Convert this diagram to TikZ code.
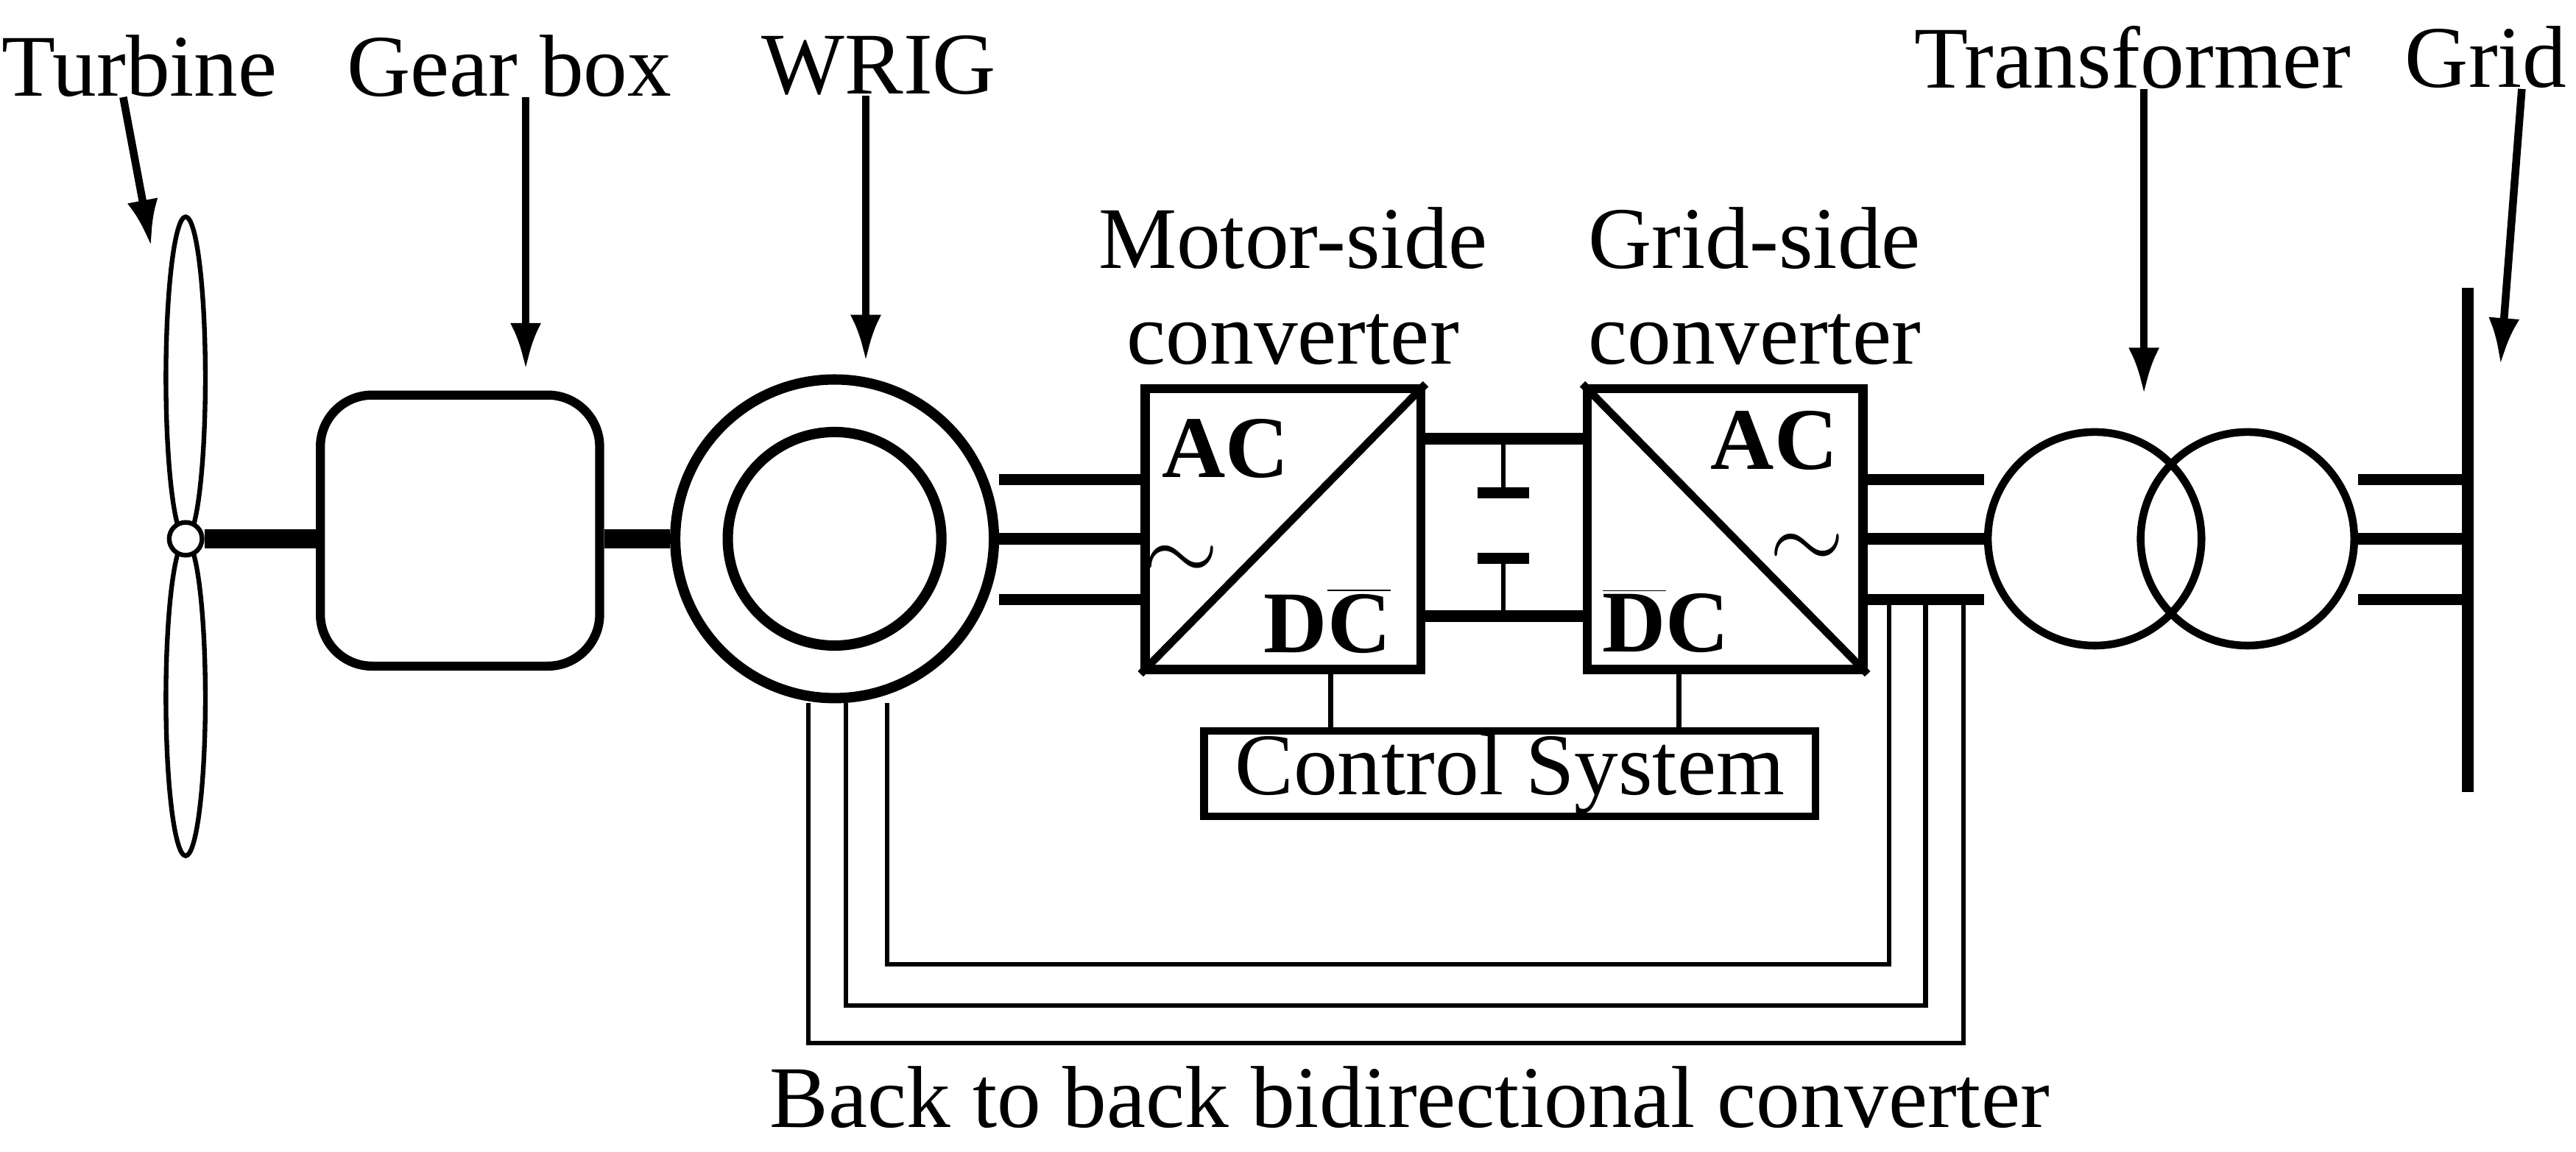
\documentclass[tikz,border=0pt]{standalone}
\usepackage{fontspec}
\setmainfont{Liberation Serif}
\usetikzlibrary{shapes.geometric, arrows.meta}
\tikzstyle{every node}=[font=\fontsize{34}{36}\selectfont]
\tikzstyle{label} = [inner sep=0pt]
\tikzstyle{pointer} = [draw, line width=3pt, -{Latex[length=18pt,width=12pt]}]
\tikzstyle{bus} = [draw, line width=4.4pt]
\tikzstyle{wire} = [draw, line width=1.8pt]
\tikzstyle{conv} = [draw, line width=3.5pt, rectangle, minimum width=168*0.02232cm, minimum height=171*0.02232cm, inner sep=0pt]

\begin{document}
\begin{tikzpicture}[x=0.02232cm, y=-0.02232cm]
    \useasboundingbox (0,0) rectangle (1568,701);
    % Labels and pointers
    \node [label] (lturb) at (85,40) {Turbine};
    \node [label] (lgear) at (310,40) {Gear box};
    \node [label] (lwrig) at (535,40) {WRIG};
    \node [label] (lmsc) at (787,145) {Motor-side};
    \node [label] (lmsc2) at (787,207) {converter};
    \node [label] (lgsc) at (1068,145) {Grid-side};
    \node [label] (lgsc2) at (1068,207) {converter};
    \node [label] (ltrans) at (1298,35) {Transformer};
    \node [label] (lgrid) at (1513,35) {Grid};
    \node [label] (lb2b) at (858,668) {Back to back bidirectional converter};
    % Turbine
    \node [draw, line width=1.8pt, ellipse, minimum width=24*0.02232cm, minimum height=196*0.02232cm, inner sep=0pt] (blade1) at (113,230) {};
    \node [draw, line width=1.8pt, ellipse, minimum width=24*0.02232cm, minimum height=192*0.02232cm, inner sep=0pt] (blade2) at (113,425) {};
    \node [draw, line width=1.8pt, circle, fill=white, minimum size=20*0.02232cm, inner sep=0pt] (hub) at (113,328) {};
    % Gear box and generator
    \node [draw, line width=3.5pt, rectangle, rounded corners=20, minimum width=170*0.02232cm, minimum height=165*0.02232cm] (gear) at (280,323) {};
    \node [draw, line width=4pt, circle, minimum size=194*0.02232cm, inner sep=0pt] (wrig) at (508,328) {};
    \node [draw, line width=4pt, circle, minimum size=130*0.02232cm, inner sep=0pt] (rotor) at (508,328) {};
    \draw [line width=12*0.02232cm] (hub.east) -- (gear.west |- hub);
    \draw [line width=12*0.02232cm] (gear.east |- hub) -- (wrig.west);
    % Converters
    \node [conv] (msc) at (781,322) {};
    \node [conv] (gsc) at (1050,322) {};
    \draw [line width=3pt] (msc.south west) -- (msc.north east);
    \draw [line width=3pt] (gsc.north west) -- (gsc.south east);
    \node [font=\bfseries\fontsize{34}{36}\selectfont] (ac1) at (746,273) {AC};
    \node [scale=1.5] (tl1) at (719,343) {$\sim$};
    \node (dc1) at (808,378) {\textbf{D}$\overline{\textbf{C}}$};
    \node [font=\bfseries\fontsize{34}{36}\selectfont] (ac2) at (1080,268) {AC};
    \node [scale=1.5] (tl2) at (1100,336) {$\sim$};
    \node (dc2) at (1014,378) {$\overline{\textbf{D}}$\textbf{C}};
    % DC link
    \coordinate (cap1) at (915,300);
    \coordinate (cap2) at (915,340);
    \draw [bus] (msc.east |- 0,267) -- (gsc.west |- 0,267);
    \draw [bus] (msc.east |- 0,375) -- (gsc.west |- 0,375);
    \draw [wire] (cap1 |- 0,267) -- (cap1);
    \draw [wire] (cap2) -- (cap2 |- 0,375);
    \draw [bus] ([xshift=-10]cap1) -- ([xshift=10]cap1);
    \draw [bus] ([xshift=-10]cap2) -- ([xshift=10]cap2);
    % Transformer and grid
    \node [draw, line width=3pt, circle, minimum size=130*0.02232cm, inner sep=0pt] (tr1) at (1275,328) {};
    \node [draw, line width=3pt, circle, minimum size=130*0.02232cm, inner sep=0pt] (tr2) at (1368,328) {};
    \coordinate (gtop) at (1502,175);
    \coordinate (gbot) at (1502,482);
    \draw [line width=4.4pt] (gtop) -- (gbot);
    % Three phase lines
    \foreach \yy in {292,328,365} {
        \draw [bus] (wrig.east |- 0,\yy) -- (msc.west |- 0,\yy);
        \draw [bus] (gsc.east |- 0,\yy) -- (tr1.west |- 0,\yy);
        \draw [bus] (tr2.east |- 0,\yy) -- (gtop |- 0,\yy);
    }
    % Control system
    \node [draw, line width=3pt, minimum width=372*0.02232cm, minimum height=52*0.02232cm, inner sep=0pt] (ctrl) at (919,471) {Control System};
    \draw [wire] (msc.south -| 810,0) -- (ctrl.north -| 810,0);
    \draw [wire] (gsc.south -| 1022,0) -- (ctrl.north -| 1022,0);
    % Rotor feedback
    \foreach \xa/\xb/\yy in {492/1195/635, 515/1172/612, 540/1150/587} {
        \coordinate (fa) at (\xa,\yy);
        \coordinate (fb) at (\xb,\yy);
        \draw [wire] (wrig.south -| fa) -- (fa) -- (fb) -- (fb |- 0,365);
    }
    % Pointers
    \path [pointer] (lturb.south -| 75,0) -- (92,150);
    \path [pointer] (lgear.south -| 320,0) -- (320,225);
    \path [pointer] (lwrig.south -| 527,0) -- (527,220);
    \path [pointer] (ltrans.south -| 1305,0) -- (1305,240);
    \path [pointer] (lgrid.south -| 1535,0) -- (1522,222);
\end{tikzpicture}
\end{document}
